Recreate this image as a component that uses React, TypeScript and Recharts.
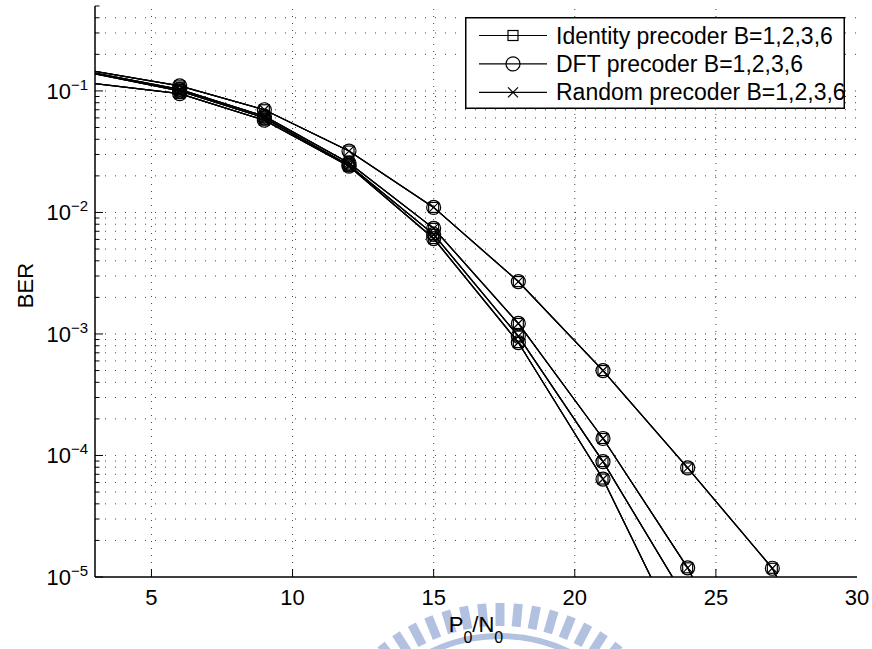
import React from 'react';
import { LineChart, Line, XAxis, YAxis, ReferenceLine, Legend } from 'recharts';

// SNR points (dB) and BER, one array per feedback size B
const snr = [3, 6, 9, 12, 15, 18, 21, 24, 27, 30];
const berB1 = [0.145, 0.11, 0.07, 0.032, 0.011, 0.0027, 0.0005, 7.9e-5, 1.18e-5, 5e-7];
const berB2 = [0.14, 0.103, 0.062, 0.0255, 0.0074, 0.00122, 1.38e-4, 1.19e-5, 5e-7, 2e-8];
const berB3 = [0.138, 0.1, 0.06, 0.0245, 0.0066, 9.6e-4, 8.9e-5, 6.2e-6, 3e-7, 1e-8];
const berB4 = [0.115, 0.095, 0.0575, 0.024, 0.0061, 8.5e-4, 6.4e-5, 2.4e-6, 1e-7, 1e-9];

const xTicks = [5, 10, 15, 20, 25, 30];
const xGrid = [5, 10, 15, 20, 25];
const yMajor = [1e-5, 1e-4, 1e-3, 1e-2, 1e-1];
const yExponents = ['\u22125', '\u22124', '\u22123', '\u22122', '\u22121'];
const yDomain: [number, number] = [1e-5, 0.5];

const precoders = [
  { name: 'Identity precoder B=1,2,3,6', marker: 'square' },
  { name: 'DFT precoder B=1,2,3,6', marker: 'circle' },
  { name: 'Random precoder B=1,2,3,6', marker: 'cross' },
];
const seriesKeys = ['b1', 'b2', 'b3', 'b4'];

const rows = snr.map((s, i) => ({
  snr: s,
  b1: berB1[i],
  b2: berB2[i],
  b3: berB3[i],
  b4: berB4[i],
}));

// log-axis minor values 2..9 x 10^k inside the domain
const yAll: number[] = [];
yMajor.forEach((d) => {
  for (let m = 1; m <= 9; m++) {
    const v = +(d * m).toPrecision(3);
    if (v <= yDomain[1] + 1e-12) yAll.push(v);
  }
});
const isMajor = (v: number) => yMajor.some((m) => Math.abs(m - v) < m * 1e-6);

const FONT = '"Liberation Sans", Arial, Helvetica, sans-serif';

const Marker = ({ kind, x, y }: { kind: string; x: number; y: number }) => {
  if (kind === 'square')
    return <rect x={x - 5} y={y - 5} width={10} height={10} fill="none" stroke="#000" strokeWidth={1.2} />;
  if (kind === 'circle') return <circle cx={x} cy={y} r={7} fill="none" stroke="#000" strokeWidth={1.2} />;
  return (
    <g stroke="#000" strokeWidth={1.2}>
      <line x1={x - 5} y1={y - 5} x2={x + 5} y2={y + 5} />
      <line x1={x - 5} y1={y + 5} x2={x + 5} y2={y - 5} />
    </g>
  );
};

const makeDot = (kind: string) => (p: any) => {
  const { cx, cy, index, value } = p;
  if (index === 0 || value == null || value < yDomain[0] || cx == null || cy == null)
    return <g key={`${kind}-${index}`} />;
  return (
    <g key={`${kind}-${index}`}>
      <Marker kind={kind} x={cx} y={cy} />
    </g>
  );
};

const BottomTick = (p: any) => {
  const { x, y, payload } = p;
  const edge = payload.value === 30;
  return (
    <g>
      {!edge && <line x1={x} x2={x} y1={y} y2={y - 8} stroke="#000" />}
      <text x={x} y={y + 28} textAnchor="middle" fontSize={22} fontFamily={FONT} fill="#000">
        {payload.value}
      </text>
    </g>
  );
};

const TopTick = (p: any) => {
  const { x, y, payload } = p;
  if (payload.value === 30) return <g />;
  return <line x1={x} x2={x} y1={y} y2={y + 8} stroke="#000" />;
};

const LeftTick = (p: any) => {
  const { x, y, payload } = p;
  const major = isMajor(payload.value);
  const idx = yMajor.findIndex((m) => Math.abs(m - payload.value) < m * 1e-6);
  return (
    <g>
      <line x1={x} x2={x + (major ? 8 : 4.5)} y1={y} y2={y} stroke="#000" />
      {major && (
        <text x={x - 7} y={y + 8} textAnchor="end" fontSize={22} fontFamily={FONT} fill="#000">
          10
          <tspan dy={-9} fontSize={15}>
            {yExponents[idx]}
          </tspan>
        </text>
      )}
    </g>
  );
};

const RightTick = (p: any) => {
  const { x, y, payload } = p;
  const major = isMajor(payload.value);
  return <line x1={x} x2={x - (major ? 8 : 4.5)} y1={y} y2={y} stroke="#000" />;
};

const XLabel = (p: any) => {
  const vb = p.viewBox;
  const cx = vb.x + vb.width / 2;
  return (
    <text x={cx} y={vb.y + 55} textAnchor="middle" fontSize={22} fontFamily={FONT} fill="#000">
      P
      <tspan dy={11} fontSize={16}>0</tspan>
      <tspan dy={-11}>/N</tspan>
      <tspan dy={11} fontSize={16}>0</tspan>
    </text>
  );
};

const YLabel = (p: any) => {
  const vb = p.viewBox;
  const cy = vb.y + vb.height / 2 - 6;
  const x = vb.x + 18;
  return (
    <text
      x={x}
      y={cy}
      transform={`rotate(-90, ${x}, ${cy})`}
      textAnchor="middle"
      fontSize={22}
      fontFamily={FONT}
      fill="#000"
    >
      BER
    </text>
  );
};

const LegendBox = () => (
  <svg width={380} height={92} style={{ display: 'block' }}>
    <rect x={0.75} y={0.75} width={378.5} height={90.5} fill="#fff" stroke="#000" strokeWidth={1.5} />
    {precoders.map((pc, i) => {
      const y = 18.5 + i * 28.4;
      return (
        <g key={pc.name}>
          <line x1={14} x2={82} y1={y} y2={y} stroke="#000" strokeWidth={1.2} />
          <Marker kind={pc.marker} x={48} y={y} />
          <text x={91} y={y + 8} fontSize={23} fontFamily={FONT} fill="#000">
            {pc.name}
          </text>
        </g>
      );
    })}
  </svg>
);

// faint logo watermark behind the x label
const Watermark = () => {
  const bars: number[] = [];
  for (let a = -66; a <= 66; a += 5.5) bars.push(a);
  const r = 158;
  const a0 = (-70 * Math.PI) / 180;
  const a1 = (70 * Math.PI) / 180;
  const cx = 500;
  const cy = 794;
  return (
    <svg width={872} height={649} style={{ position: 'absolute', left: 0, top: 0 }}>
      <g fill="#b3c1e1">
        {bars.map((a) => (
          <rect key={a} x={-4.5} y={-191} width={9} height={23} transform={`translate(${cx},${cy}) rotate(${a})`} />
        ))}
      </g>
      <path
        d={`M ${cx + r * Math.sin(a0)} ${cy - r * Math.cos(a0)} A ${r} ${r} 0 0 1 ${cx + r * Math.sin(a1)} ${cy - r * Math.cos(a1)}`}
        fill="none"
        stroke="#b3c1e1"
        strokeWidth={6}
      />
    </svg>
  );
};

export default function App() {
  return (
    <div style={{ position: 'absolute', left: 0, top: 0, width: 872, height: 649, background: '#fff' }}>
      <Watermark />
      <div style={{ position: 'absolute', left: 0, top: 0 }}>
        <LineChart width={872} height={649} data={rows} margin={{ top: 6, right: 15, bottom: 32, left: 15 }}>
          <XAxis
            xAxisId="b"
            dataKey="snr"
            type="number"
            domain={[3, 30]}
            ticks={xTicks}
            interval={0}
            allowDataOverflow
            height={40}
            tickSize={0}
            tickMargin={0}
            tickLine={false}
            axisLine={{ stroke: '#000', strokeWidth: 1.5 }}
            tick={BottomTick}
            label={{ content: XLabel }}
          />
          <XAxis
            xAxisId="t"
            orientation="top"
            dataKey="snr"
            type="number"
            domain={[3, 30]}
            ticks={xTicks}
            interval={0}
            allowDataOverflow
            height={0}
            tickSize={0}
            tickMargin={0}
            tickLine={false}
            axisLine={{ stroke: '#000', strokeWidth: 1.5 }}
            tick={TopTick}
          />
          <YAxis
            yAxisId="l"
            type="number"
            scale="log"
            domain={yDomain}
            ticks={yAll}
            interval={0}
            allowDataOverflow
            width={80}
            tickSize={0}
            tickMargin={0}
            tickLine={false}
            axisLine={{ stroke: '#000', strokeWidth: 1.5 }}
            tick={LeftTick}
            label={{ content: YLabel }}
          />
          <YAxis
            yAxisId="r"
            orientation="right"
            type="number"
            scale="log"
            domain={yDomain}
            ticks={yAll}
            interval={0}
            allowDataOverflow
            width={0}
            tickSize={0}
            tickMargin={0}
            tickLine={false}
            axisLine={{ stroke: '#000', strokeWidth: 1.5 }}
            tick={RightTick}
          />
          {yAll
            .filter((v) => v > yDomain[0] && v < yDomain[1])
            .map((v) => (
              <ReferenceLine
                key={`gy-${v}`}
                xAxisId="b"
                yAxisId="l"
                y={v}
                stroke="#444"
                strokeWidth={1}
                strokeDasharray="1 9"
              />
            ))}
          {xGrid.map((v) => (
            <ReferenceLine
              key={`gx-${v}`}
              xAxisId="b"
              yAxisId="l"
              x={v}
              stroke="#444"
              strokeWidth={1}
              strokeDasharray="1 6"
            />
          ))}
          {precoders.map((pc) =>
            seriesKeys.map((k) => (
              <Line
                key={`${pc.marker}-${k}`}
                xAxisId="b"
                yAxisId="l"
                dataKey={k}
                name={pc.name}
                type="linear"
                stroke="#000"
                strokeWidth={1.2}
                dot={makeDot(pc.marker)}
                activeDot={false}
                isAnimationActive={false}
              />
            ))
          )}
          <Legend
            layout="horizontal"
            verticalAlign="middle"
            align="center"
            content={LegendBox}
            wrapperStyle={{ left: 465, top: 17, width: 380, height: 92, position: 'absolute' }}
          />
        </LineChart>
      </div>
    </div>
  );
}
